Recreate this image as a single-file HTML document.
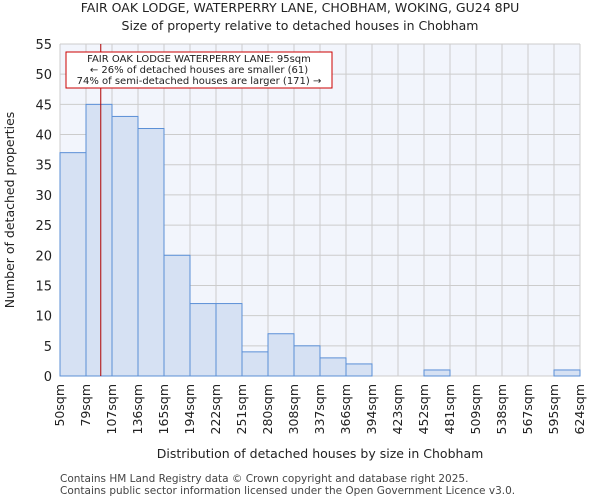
<!DOCTYPE html>
<html><head><meta charset="utf-8"><style>
body{margin:0;background:#fff;font-family:"DejaVu Sans","Liberation Sans",sans-serif;}
</style></head><body>
<svg width="600" height="500" xmlns="http://www.w3.org/2000/svg" font-family="DejaVu Sans, Liberation Sans, sans-serif">
<text x="300" y="12" text-anchor="middle" font-size="12.5" fill="#222">FAIR OAK LODGE, WATERPERRY LANE, CHOBHAM, WOKING, GU24 8PU</text>
<text x="300" y="30" text-anchor="middle" font-size="12.5" fill="#222">Size of property relative to detached houses in Chobham</text>
<rect x="60" y="44" width="520" height="332" fill="#f2f5fc"/>
<g id="grid"></g><g id="bars"></g><g id="axes"></g>
<text x="14" y="210" transform="rotate(-90 14 210)" text-anchor="middle" font-size="12.5" fill="#222">Number of detached properties</text>
<text x="320" y="458" text-anchor="middle" font-size="12.5" fill="#222">Distribution of detached houses by size in Chobham</text>
<text x="60" y="482" font-size="10.5" fill="#444">Contains HM Land Registry data © Crown copyright and database right 2025.</text>
<text x="60" y="494" font-size="10.5" fill="#444">Contains public sector information licensed under the Open Government Licence v3.0.</text>
</svg>
<script>
const categories=["50sqm","79sqm","107sqm","136sqm","165sqm","194sqm","222sqm","251sqm","280sqm","308sqm","337sqm","366sqm","394sqm","423sqm","452sqm","481sqm","509sqm","538sqm","567sqm","595sqm","624sqm"];
const counts=[37,45,43,41,20,12,12,4,7,5,3,2,0,0,1,0,0,0,0,1];
const yTicks=[0,5,10,15,20,25,30,35,40,45,50,55];
const propertySize=95;
const binStart=50, binWidth=28.7;
const NS="http://www.w3.org/2000/svg";
const X0=60,X1=580,Y0=376,Y1=44,YMAX=55;
const bw=(X1-X0)/counts.length;
const xs=i=>X0+i*bw;
const ys=v=>Y0-(v/YMAX)*(Y0-Y1);
function mk(tag,attrs,parent){const e=document.createElementNS(NS,tag);for(const k in attrs)e.setAttribute(k,attrs[k]);parent.appendChild(e);return e;}
const grid=document.getElementById('grid'),bars=document.getElementById('bars'),axes=document.getElementById('axes');
yTicks.forEach(t=>{
 const l=mk('line',{x1:X0,x2:X1,y1:ys(t),y2:ys(t),stroke:'#cccccc','stroke-width':1},grid);
 
 
 const tx=mk('text',{x:X0-8,y:ys(t)+5,'text-anchor':'end','font-size':13,fill:'#222'},axes);
 tx.textContent=t;
 
 
});
categories.forEach((c,i)=>{
 const x=xs(i);
 const l=mk('line',{x1:x,x2:x,y1:Y1,y2:Y0,stroke:'#cccccc','stroke-width':1},grid);
 
 
 const tx=mk('text',{x:0,y:0,'text-anchor':'end','font-size':12.5,fill:'#222',transform:`translate(${x+4},${Y0+8}) rotate(-90)`},axes);
 tx.textContent=c;
 
 
});
counts.forEach((v,i)=>{
 if(v<=0)return;
 const r=mk('rect',{x:xs(i),y:ys(v),width:bw,height:Y0-ys(v),fill:'#d6e1f3',stroke:'#5b8fd6','stroke-width':1},bars);
 
 
});
const px=X0+(propertySize-binStart)/binWidth*bw;
const ml=mk('line',{x1:px,x2:px,y1:Y1,y2:Y0,stroke:'#b00000','stroke-width':1},bars);


const box=mk('rect',{x:66,y:52,width:266,height:36,fill:'#fff',stroke:'#c00','stroke-width':1},bars);


["FAIR OAK LODGE WATERPERRY LANE: 95sqm","← 26% of detached houses are smaller (61)","74% of semi-detached houses are larger (171) →"].forEach((s,i)=>{
 const t=mk('text',{x:199,y:62+i*11,'text-anchor':'middle','font-size':10,fill:'#222'},bars);
 t.textContent=s;
 
 
});
</script>
</body></html>
